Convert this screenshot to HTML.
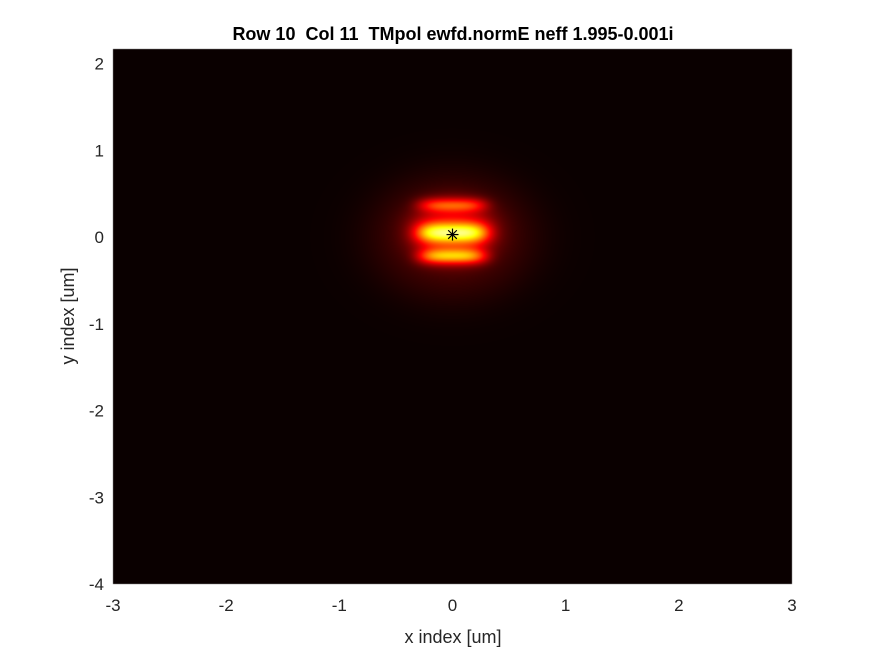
<!DOCTYPE html>
<html><head><meta charset="utf-8"><style>
body{margin:0;background:#fff;}
#wrap{position:relative;width:875px;height:656px;background:#fff;font-family:"Liberation Sans",sans-serif;}
canvas{position:absolute;left:0;top:0;}
</style></head><body>
<div id="wrap">
<canvas id="c" width="875" height="656"></canvas>
<svg id="s" width="875" height="656" style="position:absolute;left:0;top:0"></svg>
</div>
<script>
// data
const xTicks=[-3,-2,-1,0,1,2,3];
const yTicks=[-4,-3,-2,-1,0,1,2];
const bandY=[0.37,0.05,-0.22];      // band centers (um)
const bandAmp=[0.3,0.55,0.45];      // band peak intensities
const bandSx=[0.3,0.32,0.3];        // band x widths (um)
const bandSy=[0.08,0.12,0.09];      // band y widths (um)
const glowAmp=0.22, glowRx=0.38, glowRy=0.36;
const haloAmp=0.1, haloR=0.72;
const markerX=[0], markerY=[0.03];
const L=113,R=792,T=49,B=584,xmin=-3,xmax=3,ymin=-4,ymax=2.17;
const sx=v=>L+(v-xmin)/(xmax-xmin)*(R-L);
const sy=v=>B-(v-ymin)/(ymax-ymin)*(B-T);
const ix=p=>xmin+(p-L)/(R-L)*(xmax-xmin);
const iy=p=>ymin+(B-p)/(B-T)*(ymax-ymin);
function hot(t){t=Math.max(0,Math.min(1,t));
 return [Math.min(1,t/0.375),Math.max(0,Math.min(1,(t-0.375)/0.375)),Math.max(0,(t-0.75)/0.25)].map(v=>Math.round(v*255));}
const ctx=document.getElementById('c').getContext('2d');
const img=ctx.createImageData(R-L,B-T);
for(let py=T;py<B;py++){const y=iy(py+0.5);
 for(let px=L;px<R;px++){const x=ix(px+0.5);
  let I=0.015+haloAmp*Math.exp(-Math.pow((x*x+y*y)/(haloR*haloR),1.5));
  const gx=x/glowRx,gy=(y-0.07)/glowRy;
  I+=glowAmp*Math.exp(-Math.pow(gx*gx+gy*gy,1.5));
  for(let k=0;k<bandY.length;k++){const dx=x/bandSx[k],dy=(y-bandY[k])/bandSy[k];
   I+=bandAmp[k]*Math.exp(-(dx*dx*dx*dx)-dy*dy);}
  const c=hot(I);const o=((py-T)*(R-L)+(px-L))*4;
  img.data[o]=c[0];img.data[o+1]=c[1];img.data[o+2]=c[2];img.data[o+3]=255;}}
ctx.putImageData(img,L,T);
const S=document.getElementById('s');const NS='http://www.w3.org/2000/svg';
function mk(tag,at,txt){const e=document.createElementNS(NS,tag);for(const k in at)e.setAttribute(k,at[k]);if(txt!==undefined)e.textContent=txt;S.appendChild(e);return e;}
xTicks.forEach(v=>{const e=mk('text',{x:sx(v),y:611,'text-anchor':'middle','font-size':17,fill:'#262626'},String(v));
 
 });
yTicks.forEach(v=>{const e=mk('text',{x:104,y:sy(v)+6,'text-anchor':'end','font-size':17,fill:'#262626'},String(v));
 
 });
let e=mk('text',{x:453,y:643,'text-anchor':'middle','font-size':18,fill:'#262626'},'x index [um]');


e=mk('text',{x:74,y:316,'text-anchor':'middle','font-size':18,fill:'#262626',transform:'rotate(-90 74 316)'},'y index [um]');


e=mk('text',{x:453,y:40,'text-anchor':'middle','font-size':18,'font-weight':'bold',fill:'#000'},'Row 10  Col 11  TMpol ewfd.normE neff 1.995-0.001i');


e.style.whiteSpace='pre';
markerX.forEach((mx,i)=>{const cx=sx(mx),cy=sy(markerY[i]);
 const g=mk('g',{stroke:'#000','stroke-width':1.2});
 
 
 [[0,6],[6,0],[4.3,4.3],[4.3,-4.3]].forEach(d=>{const l=document.createElementNS(NS,'line');
  l.setAttribute('x1',cx-d[0]);l.setAttribute('y1',cy-d[1]);l.setAttribute('x2',cx+d[0]);l.setAttribute('y2',cy+d[1]);g.appendChild(l);});});
</script>
</body></html>
